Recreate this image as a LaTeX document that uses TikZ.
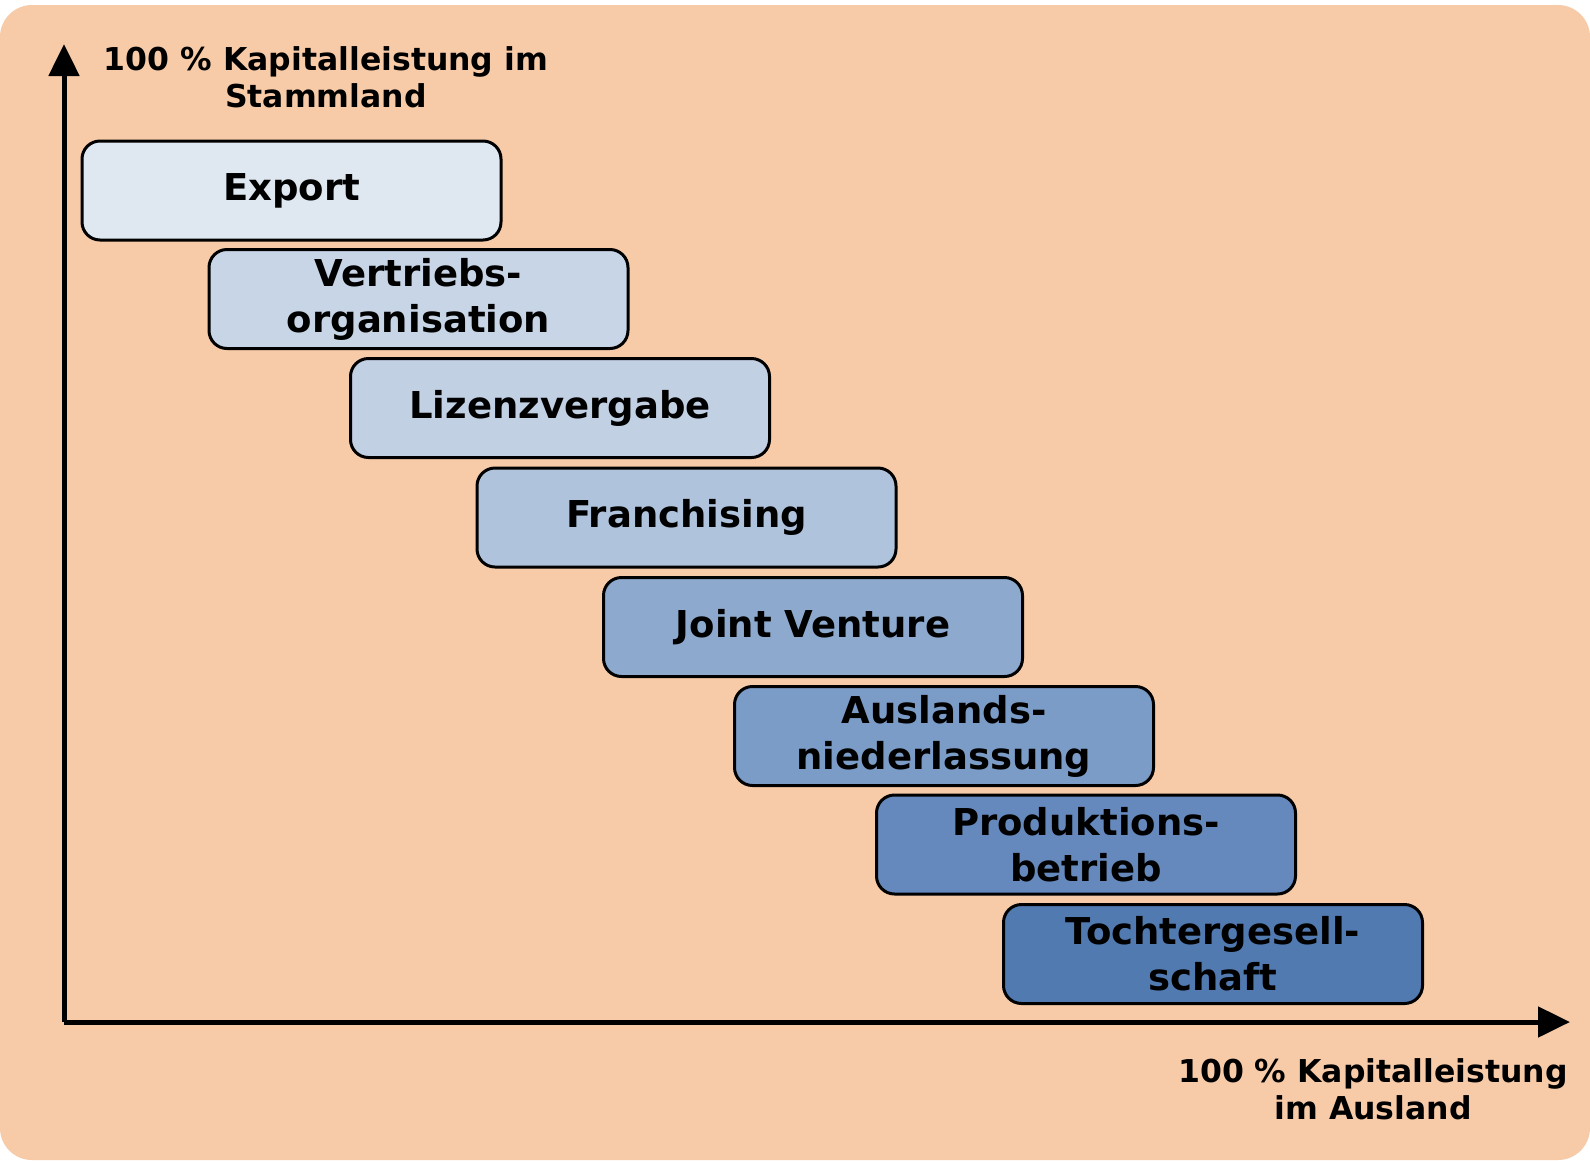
\documentclass[tikz,border=0pt]{standalone}
\usepackage{fontspec}
\setmainfont{DejaVu Sans}
\usetikzlibrary{arrows.meta}
\definecolor{peach}{HTML}{F8CBA8}
\definecolor{c1}{HTML}{DFE7F1}
\definecolor{c2}{HTML}{C8D5E6}
\definecolor{c3}{HTML}{C2D0E3}
\definecolor{c4}{HTML}{AFC3DC}
\definecolor{c5}{HTML}{8DAACE}
\definecolor{c6}{HTML}{7B9CC7}
\definecolor{c7}{HTML}{6589BD}
\definecolor{c8}{HTML}{517AB1}
\tikzset{
  stagebox/.style={draw=black, line width=3pt, rounded corners=18pt,
    minimum width=419pt, minimum height=99pt, inner sep=0pt, align=center,
    font=\fontsize{37}{46}\selectfont\bfseries},
  axislabel/.style={align=center, font=\fontsize{31.5}{37}\selectfont\bfseries, inner sep=0pt},
  axis/.style={line width=5pt, -{Triangle[length=32pt,width=30pt]}}
}
\begin{document}
\begin{tikzpicture}[x=1pt,y=-1pt]
\useasboundingbox (0,0) rectangle (1590,1160);
\fill[white] (0,0) rectangle (1590,1160);
\fill[peach, rounded corners=32pt] (0,5) rectangle (1590,1160);
\coordinate (o) at (64,1022);
\coordinate (ytip) at (64,44);
\coordinate (xtip) at (1570,1022);
\draw[axis] (o) -- (ytip);
\draw[axis] (o) -- (xtip);
\node[axislabel] (ylab) at (326,77) {100 \% Kapitalleistung im\\Stammland};
\node[axislabel] (xlab) at (1373,1089) {100 \% Kapitalleistung\\im Ausland};
\node[stagebox, fill=c1] (b1) at (291.5,190.5) {Export};
\node[stagebox, fill=c2] (b2) at (418.5,299) {Vertriebs-\\organisation};
\node[stagebox, fill=c3] (b3) at (560,408) {Lizenzvergabe};
\node[stagebox, fill=c4] (b4) at (686.5,517.5) {Franchising};
\node[stagebox, fill=c5] (b5) at (813,627) {Joint Venture};
\node[stagebox, fill=c6] (b6) at (944,736) {Auslands-\\niederlassung};
\node[stagebox, fill=c7] (b7) at (1086,844.5) {Produktions-\\betrieb};
\node[stagebox, fill=c8] (b8) at (1213,954) {Tochtergesell-\\schaft};
\end{tikzpicture}
\end{document}
